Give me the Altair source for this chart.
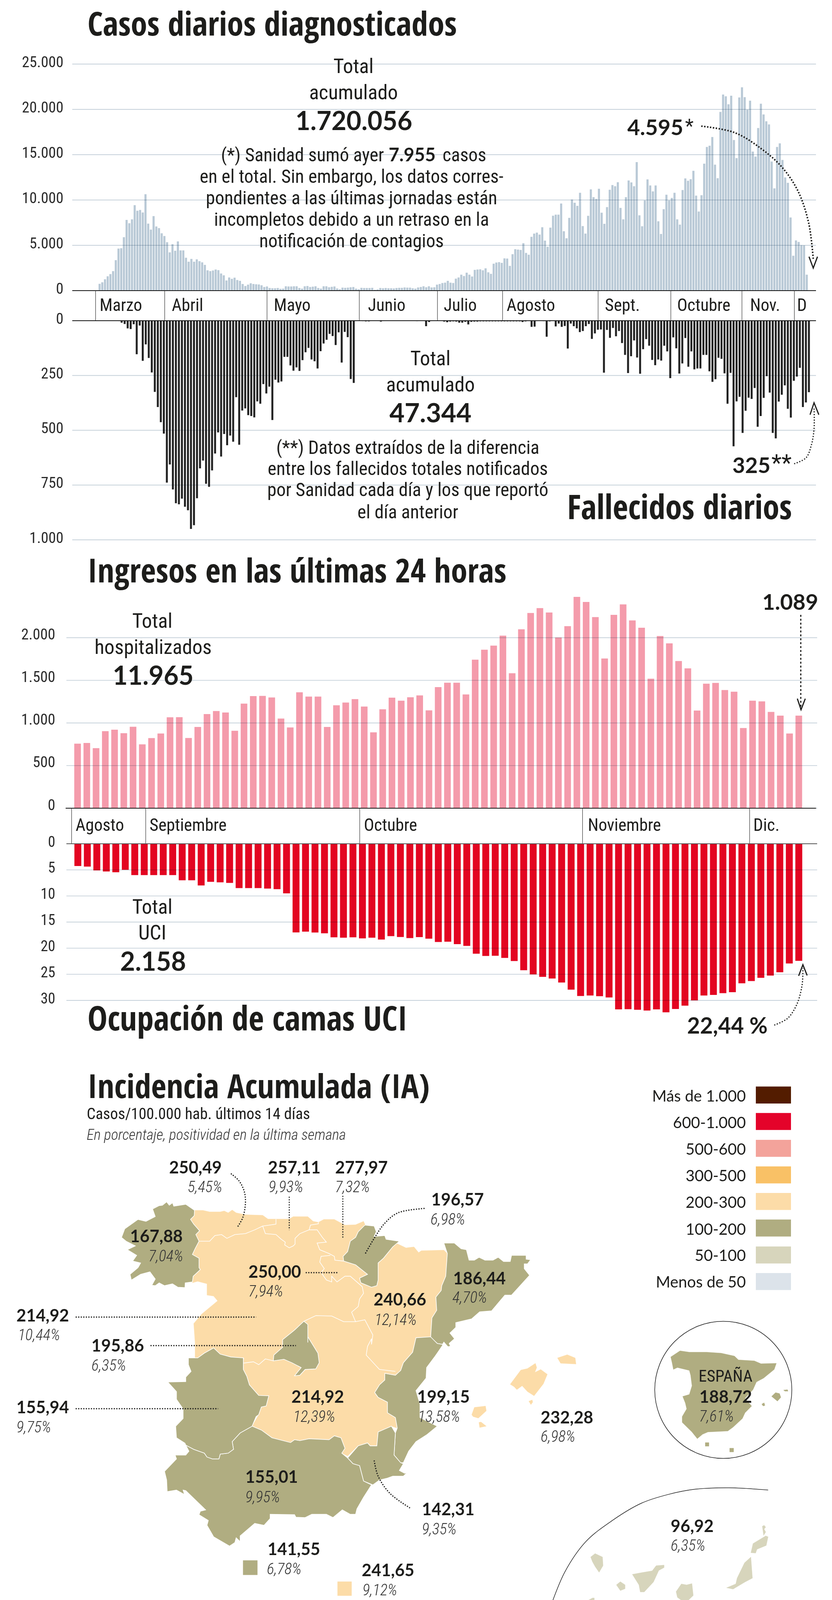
import altair as alt

# ---------- chart values ----------
cases = [750,920,1250,1580,1825,2150,3360,4640,4680,5890,7800,7430,7870,9430,8820,8900,8620,10640,7390,6730,8220,7080,6900,6330,6020,5340,4220,5120,4400,5430,4440,4440,3630,3190,3500,3190,3450,3250,3120,2840,2240,2150,2220,2330,2260,1890,1690,1120,1450,1300,1430,1170,1080,730,510,660,810,730,700,680,590,400,460,
 290,260,260,290,200,220,480,460,460,480,480,290,220,480,510,400,440,480,290,220,480,480,370,420,460,240,150,330,310,330,370,400,220,150,310,290,290,290,310,90,130,290,260,290,260,260,240,290,310,310,350,330,330,260,220,
 350,400,480,370,480,350,370,660,730,840,880,1080,880,840,1320,1450,1760,1610,1980,1760,1560,2290,2330,2350,2240,2460,2020,1850,2970,3100,3140,3060,3560,3540,2730,4020,4570,4530,4490,5230,4160,3960,5940,6290,6400,6180,6990,5520,4840,6950,8270,8380,8380,9610,6550,5780,8030,10050,9700,9350,10800,7120,6290,8250,11170,10310,10120,11240,8600,7370,9210,11130,11650,11520,11960,9130,7870,10310,12160,11940,11520,14180,8310,7100,9960,12270,11610,10950,11610,7650,6250,8990,10580,9960,10230,10800,7870,7280,11100,12380,12120,12290,13220,10490,8730,10530,14010,15850,15990,16950,13900,12400,19720,21640,21440,20560,21510,16620,14620,21310,22430,21350,19970,20960,15350,14800,17940,20630,19440,18690,18340,14250,11280,15850,16250,14420,12490,11900,8070,3850,5540,5370,5010,4990,1760]
deaths = [9,15,35,38,16,153,22,183,108,170,236,325,394,463,515,739,656,770,833,838,812,849,865,950,933,810,674,638,744,758,683,606,510,620,517,568,524,552,349,566,410,400,431,435,441,368,379,289,332,301,453,269,282,277,165,165,204,228,213,229,180,144,124,177,185,218,139,104,87,60,70,111,53,191,51,75,266,284,
 0,0,2,3,3,1,0,0,4,1,0,0,0,0,0,0,0,0,0,0,
 2,0,0,25,6,0,0,0,1,4,7,4,3,4,9,9,5,17,5,4,4,3,3,3,3,3,3,3,3,3,3,3,3,3,3,6,3,0,28,27,0,0,2,73,3,0,26,13,28,24,127,13,25,35,52,47,25,15,83,58,41,40,237,42,78,33,71,47,102,156,239,162,90,168,242,130,84,114,179,203,177,182,114,140,262,76,126,241,195,79,210,140,222,218,218,156,156,231,279,267,169,174,240,379,238,573,368,347,512,411,351,357,307,484,435,352,253,328,512,537,369,338,295,402,442,274,255,215,394,373,326]
admissions = [757,765,705,904,921,880,955,749,822,876,1066,1068,824,953,1104,1140,1122,908,1227,1315,1317,1299,1051,947,1360,1309,1309,953,1207,1239,1279,1192,890,1160,1297,1261,1301,
 1323,1148,1420,1472,1472,1335,1742,1859,1907,2024,1583,2099,2290,2347,2296,2002,2135,2479,2419,2242,1756,2268,2391,2203,2117,1519,2020,1934,1726,1640,1146,1460,1470,1386,1366,941,1261,1253,1130,1086,876,1086]
icu = [4.27,4.38,5.10,5.31,5.47,4.99,6.0,6.0,6.0,6.0,6.0,6.99,6.99,7.98,7.29,7.39,7.5,8.49,8.49,8.49,8.59,8.70,9.5,16.98,16.84,17.0,17.16,17.91,17.99,17.91,18.12,17.99,18.34,17.7,17.86,18.07,
 17.88,18.18,18.82,18.76,19.22,19.56,21.06,21.49,21.46,21.86,22.47,24.23,25.03,25.49,25.81,26.58,27.94,29.15,29.07,29.2,29.44,31.73,31.68,31.79,31.95,31.73,32.29,31.65,31.01,30.0,29.07,28.96,28.61,28.42,26.72,26.29,25.68,25.25,24.61,22.93,22.42]

top_months = ["Marzo","Abril","Mayo","Junio","Julio","Agosto","Sept.","Octubre","Nov.","D"]
top_month_start = [-0.77,24.7,62.4,96.4,125.2,149.2,184.4,211.2,237.4,256.7]
top_month_label = [0.72,27.3,64.9,99.6,127.5,150.7,186.9,213.5,240.4,257.7]
low_months = ["Agosto","Septiembre","Octubre","Noviembre","Dic."]
low_month_start = [-0.43,7.54,30.56,54.53,72.5]
low_month_label = [0.0,7.95,31.0,55.1,72.9]

legend_labels = ["Más de 1.000","600-1.000","500-600","300-500","200-300","100-200","50-100","Menos de 50"]
legend_colors = ["#531c00","#e4032a","#f3a39b","#f9c166","#fcdca8","#b0ad81","#d7d5bc","#dce3ea"]

PEACH, OLIVE, PALE = "#fcdca8", "#b0ad81", "#d7d5bc"
INK = "#1d1d1b"
NARROW = "Roboto Condensed"
ITAL = "Roboto Condensed Light, Roboto Condensed"
HEAD = "Open Sans Condensed"
NUM = "Lato"
LEG = "Lato"
OFF = 8

def Z(dx, dy, fy):
    return lambda pts: [[dx + x / 1.472 - OFF, dy + y / fy - OFF] for x, y in pts]

z1, z2 = Z(0, 0, 1.96), Z(1065, 0, 1.96)
z3, z4 = Z(0, 780, 2.45), Z(1065, 780, 2.45)
z5, z6 = Z(0, 1420, 2.306), Z(1065, 1420, 2.306)
z7, z8 = Z(0, 2100, 2.8), Z(1065, 2100, 2.8)
z9, z11 = Z(0, 2700, 2.063), Z(1065, 2700, 2.063)
z10, z12 = Z(0, 3400, 2.031), Z(1065, 3400, 2.031)

layers = []
ONE = alt.Data(values=[{"a": 1}])

def T(s, x, y, size, font=NARROW, weight="normal", style="normal", align="left", color=INK):
    layers.append(alt.Chart(ONE).mark_text(font=font, fontSize=size, fontWeight=weight, fontStyle=style,
                                           align=align, baseline="alphabetic", color=color).encode(
        x=alt.value(x - OFF), y=alt.value(y - OFF), text=alt.value(s)))

def N(s, x, y, size, align="left"):
    T(s, x, y, size, font=NUM, weight="bold", align=align)

def L(pts, dash=None, width=3.0, color=INK, interp="linear"):
    rows = [{"x": p[0], "y": p[1], "i": i} for i, p in enumerate(pts)]
    kw = {"strokeDash": dash} if dash else {}
    layers.append(alt.Chart(alt.Data(values=rows)).mark_line(stroke=color, strokeWidth=width, interpolate=interp, **kw).encode(
        x=alt.X("x:Q", scale=None, axis=None), y=alt.Y("y:Q", scale=None, axis=None), order="i:Q"))

def panel(values, first, last, y0, yv, vmax, color, bar_w, ticks, x0, x1, label_right, size, loff):
    """bars + multiply grid + axis"""
    xs = alt.Scale(domain=[0, len(values) - 1], range=[first - OFF, last - OFF], nice=False, zero=False)
    ys = alt.Scale(domain=[0, vmax], range=[y0 - OFF, yv - OFF], nice=False, zero=False)
    rows = [{"i": i, "v": v} for i, v in enumerate(values)]
    layers.append(alt.Chart(alt.Data(values=rows)).mark_bar(color=color, width=bar_w, orient="vertical").encode(
        x=alt.X("i:Q", scale=xs, axis=None), y=alt.Y("v:Q", scale=ys, axis=None, stack=None)))
    axis = alt.Axis(orient="left", values=ticks, title=None, domain=False, ticks=False, grid=False,
                    labelFont=NARROW, labelFontSize=size, labelColor="#2b2b2b", labelPadding=0,
                    offset=-(label_right - OFF), labelOffset=loff, labelBaseline="middle",
                    labelExpr="replace(format(datum.value, ','), ',', '.')")
    gv = [{"v": t} for t in ticks]
    layers.append(alt.Chart(alt.Data(values=gv)).mark_rule(stroke="#c6d1da", strokeWidth=1.8, blend="multiply").encode(
        y=alt.Y("v:Q", scale=ys, axis=axis), x=alt.value(x0 - OFF), x2=alt.value(x1 - OFF)))
    return ys

def baseline(ys, x0, x1, color="#111", w=1.8):
    layers.append(alt.Chart(alt.Data(values=[{"v": 0}])).mark_rule(stroke=color, strokeWidth=w).encode(
        y=alt.Y("v:Q", scale=ys, axis=None), x=alt.value(x0 - OFF), x2=alt.value(x1 - OFF)))

def months(names, starts, labs, first, last, n, ytop, ybot, ylab, size):
    xs = alt.Scale(domain=[0, n - 1], range=[first - OFF, last - OFF], nice=False, zero=False)
    layers.append(alt.Chart(alt.Data(values=[{"m": m} for m in starts])).mark_rule(stroke="#333", strokeWidth=1.2).encode(
        x=alt.X("m:Q", scale=xs, axis=None), y=alt.value(ytop - OFF), y2=alt.value(ybot - OFF)))
    layers.append(alt.Chart(alt.Data(values=[{"m": m, "t": t} for m, t in zip(labs, names)])).mark_text(
        font=NARROW, fontSize=size, align="left", baseline="alphabetic", color=INK).encode(
        x=alt.X("m:Q", scale=xs, axis=None), y=alt.value(ylab - OFF), text="t:N"))

BODY = 47.5
TOT = 52
HSIZE = 86

# ---------- cases ----------
ys_c = panel(cases, 250, 2070.4, 744, 164, 25000, "#b9c9d6", 5.4, [0, 5000, 10000, 15000, 20000, 25000], 185, 2089, 162, 39, -5)
baseline(ys_c, 185, 2089)
months(top_months, top_month_start, top_month_label, 250, 2070.4, len(cases), 744, 821, 796, 44)
T("Casos diarios diagnosticados", 224, 91, 85, font=HEAD, weight="bold")
T("Total", 905, 187, TOT, align="center")
T("acumulado", 905, 253.6, TOT, align="center")
N("1.720.056", 906, 333, 66, align="center")
T("(*) Sanidad sumó ayer", 983, 413, BODY, align="right")
N("7.955", 995, 413, 47)
T("casos", 1133, 413, BODY)
T("en el total. Sin embargo, los datos corres-", 900, 468, BODY, align="center")
T("pondientes a las últimas jornadas están", 900, 523, BODY, align="center")
T("incompletos debido a un retraso en la", 900, 578, BODY, align="center")
T("notificación de contagios", 900, 632.6, BODY, align="center")
N("4.595", 1606, 346, 56)
T("*", 1754, 340, 50)
L(z2([(1075,633),(1200,665),(1300,745),(1380,840),(1440,960),(1480,1120),(1497,1300)]), dash=[3.5,4], width=4, interp="catmull-rom")
L(z2([(1481,1288),(1497,1345),(1513,1288)]), width=3)

# ---------- deaths ----------
ys_d = panel(deaths, 306.4, 2075.9, 821, 1382, 1000, "#222222", 5.0, [0, 250, 500, 750, 1000], 185, 2089, 162, 39, -5)
baseline(ys_d, 185, 2089)
T("Total", 1102, 935, TOT, align="center")
T("acumulado", 1102, 1002, TOT, align="center")
N("47.344", 1102, 1081, 67, align="center")
T("(**) Datos extraídos de la diferencia", 1044, 1161.6, BODY, align="center")
T("entre los fallecidos totales notificados", 1044, 1216, BODY, align="center")
T("por Sanidad cada día y los que reportó", 1044, 1270, BODY, align="center")
T("el día anterior", 1044, 1327, BODY, align="center")
N("325", 1875, 1210.6, 56)
T("**", 1975, 1205, 60)
T("Fallecidos diarios", 1452, 1329, HSIZE, font=HEAD, weight="bold")
L(z4([(1425,998),(1470,960),(1490,880),(1500,780),(1500,650)]), dash=[3,4], width=3, interp="catmull-rom")
L(z4([(1485,690),(1500,615),(1518,690)]), width=3)

# ---------- admissions ----------
ys_h = panel(admissions, 193.6, 2050, 2069, 1632.5, 2000, "#f49bab", 17, [0, 500, 1000, 1500, 2000], 170, 2092, 141, 39, -8)
baseline(ys_h, 168, 2089)
months(low_months, low_month_start, low_month_label, 193.6, 2050, len(admissions), 2069, 2160, 2126.8, 44)
T("Ingresos en las últimas 24 horas", 224, 1491, 85, font=HEAD, weight="bold")
T("Total", 390, 1606.5, TOT, align="center")
T("hospitalizados", 392, 1673.7, TOT, align="center")
N("11.965", 392, 1753, 66, align="center")
N("1.089", 1951.5, 1561, 56)
L(z6([(1450,355),(1450,915)]), dash=[5,5], width=3)
L(z6([(1437,850),(1451,915),(1467,850)]), width=3)

# ---------- ICU ----------
ys_u = panel(icu, 194.3, 2050, 2160, 2561, 30, "#e30521", 17.7, [0, 5, 10, 15, 20, 25, 30], 170, 2092, 141, 38, -4)
baseline(ys_u, 170, 2092, color="#555", w=2.2)
T("Total", 390, 2338.6, TOT, align="center")
T("UCI", 390, 2405, TOT, align="center")
N("2.158", 392, 2485, 66, align="center")
T("Ocupación de camas UCI", 224, 2637.5, HSIZE, font=HEAD, weight="bold")
N("22,44 %", 1759, 2646, 57)
L(z8([(1350,1468),(1400,1420),(1435,1320),(1455,1180),(1458,1060)]), dash=[3,4], width=3, interp="catmull-rom")
L(z8([(1442,1115),(1458,1035),(1474,1112)]), width=3)

# ---------- map outlines ----------
galicia = z9([(733,822),(732,850),(718,870),(730,895),(752,930),(738,950),(750,985),(735,1025),(725,1055),(750,1075),(750,1125),(755,1135),(728,1170),(725,1200),(698,1205),(697,1230),(670,1228),(650,1210),(620,1220),(600,1205),(585,1220),(572,1218),(585,1185),(565,1147),(530,1160),(495,1190),(490,1160),(520,1125),(530,1100),(500,1090),(515,1060),(480,1030),(510,1010),(475,985),(458,965),(470,920),(500,890),(520,870),(550,880),(585,855),(575,815),(600,797),(612,795),(628,777),(638,795),(650,782),(655,800),(700,790)])
peach_main = (z9([(733,822),(765,822),(790,830),(830,830),(845,825),(860,835),(875,820),(890,835),(925,845),(990,848),(1010,868),(1090,868),(1105,855),(1160,855),(1180,880),(1200,885),(1220,870),(1260,870),(1300,900),(1340,898),(1370,880),(1375,895),(1400,960),(1500,1000),(1530,1020),(1560,1015)])
  + z11([(10,1045),(20,1035),(105,1032),(118,1050),(115,1110),(112,1170),(97,1220),(95,1245),(75,1280),(78,1350),(60,1390),(55,1490)])
  + z10([(1568,130),(1520,180),(1510,220),(1490,245),(1450,235),(1450,270),(1430,295),(1412,335),(1425,360),(1460,385),(1460,440),(1490,465),(1497,520),(1475,510),(1425,540),(1420,610),(1395,610),(1385,595),(1350,610),(1310,665),(1288,650),(1300,625),(1285,570),(1260,560),(1240,580),(1165,575),(1130,585),(1110,580),(1095,595),(1025,570),(985,530),(950,510),(975,450),(985,410),(1003,405),(1013,352),(975,350),(940,295),(930,250),(918,215),(917,180),(920,155),(870,150),(830,135),(805,103),(770,130),(745,155),(735,155)])
  + z9([(735,1520),(730,1420),(760,1370),(820,1300),(805,1275),(780,1270),(780,1210),(745,1197),(725,1205),(725,1000),(720,870)]))
borders = [
 z9([(750,985),(790,985),(810,955),(835,950),(855,970),(885,950),(925,945),(960,925),(990,905),(1000,945),(1040,950),(1060,975),(1075,990),(1073,1005),(1090,1020),(1105,1010),(1112,1000),(1112,970),(1130,945),(1165,925),(1195,925),(1215,965),(1230,990),(1195,995),(1205,1030),(1240,1050),(1260,1065),(1262,1085),(1295,1090)]),
 z9([(990,905),(1040,895),(1040,868)]),
 z9([(1165,925),(1170,900),(1200,893),(1200,885)]),
 z9([(1245,1060),(1210,1065),(1205,1095),(1222,1130),(1210,1150),(1230,1190),(1250,1200),(1250,1170),(1270,1200),(1300,1170),(1320,1170),(1365,1225),(1370,1260),(1355,1290),(1350,1330),(1325,1360),(1340,1410),(1295,1410),(1250,1380),(1190,1378),(1145,1408)]),
 z9([(1340,1410),(1375,1400),(1405,1480),(1400,1530)]) + z10([(1400,55),(1385,95),(1380,140),(1400,170),(1430,215),(1490,225)]),
 z10([(1030,170),(1000,160),(975,190),(955,175),(917,182)]),
]
madrid = z9([(1145,1408),(1160,1425),(1160,1520)]) + z10([(1160,45),(1198,130),(1203,180),(1190,212),(1150,215),(1130,245),(1110,248),(1135,205),(1100,180),(1070,162),(1030,170),(1032,140),(1065,100),(1065,60),(1110,10)])
navarra = z9([(1375,900),(1410,905),(1418,935),(1410,960),(1450,955),(1455,975),(1505,985),(1480,1015),(1445,1075),(1425,1100),(1425,1190),(1420,1220),(1400,1228),(1360,1205),(1355,1180),(1385,1160),(1340,1110),(1295,1090),(1293,1065),(1310,1040),(1320,985),(1340,965),(1350,935)])
catalunya = z11([(105,995),(145,995),(170,1025),(190,1030),(200,1085),(220,1085),(238,1070),(260,1085),(290,1085),(310,1070),(330,1092),(355,1092),(360,1060),(415,1060),(415,1080),(432,1083),(420,1105),(408,1105),(408,1130),(428,1165),(360,1270),(335,1270),(285,1353),(240,1358),(210,1395),(150,1415),(150,1440),(128,1470),(145,1500),(125,1525),(130,1540),(120,1542),(105,1518),(100,1530),(80,1525),(55,1495),(60,1390),(78,1350),(75,1280),(95,1245),(97,1220),(112,1170),(115,1110),(118,1050)])
valencia = (z11([(55,1490),(80,1525),(100,1530)]) + z12([(100,90),(85,120),(70,150),(40,205),(38,260),(0,325),(15,395),(15,465),(80,510),(40,555),(0,590)])
  + z10([(1540,640),(1520,700),(1510,700),(1485,660),(1490,545),(1497,520),(1490,465),(1460,440),(1460,385),(1425,360),(1412,335),(1430,295),(1450,270),(1450,235),(1490,245),(1510,220),(1520,180),(1555,125)]) + z12([(0,50)]))
murcia = z10([(1310,675),(1350,612),(1385,597),(1395,612),(1420,612),(1425,540),(1475,510),(1490,545),(1485,660),(1510,700),(1520,705),(1505,740),(1525,755),(1535,750),(1520,770),(1480,770),(1460,780),(1430,790),(1405,815),(1370,795),(1355,715),(1330,705)])
andalucia = z10([(950,510),(985,530),(1025,570),(1095,595),(1110,580),(1130,585),(1165,575),(1240,580),(1260,560),(1285,570),(1300,625),(1288,650),(1310,675),(1330,705),(1355,715),(1370,795),(1400,815),(1370,880),(1345,940),(1340,968),(1320,968),(1290,945),(1255,985),(1230,968),(1175,968),(1150,985),(1115,983),(1110,970),(1018,968),(1018,990),(995,1025),(960,1015),(905,1080),(905,1110),(890,1090),(885,1115),(865,1133),(805,1085),(780,1025),(785,1000),(750,970),(755,952),(775,945),(700,845),(690,842),(695,865),(665,842),(630,850),(628,790),(620,745),(665,680),(660,660),(700,660),(712,640),(700,608),(730,630),(770,650),(780,670),(800,680),(825,680),(830,655),(860,650),(880,630),(875,590),(905,545)])
extremadura = z10([(710,155),(745,155),(770,130),(805,103),(830,135),(870,150),(917,155),(917,215),(930,250),(940,295),(975,350),(1013,352),(1003,405),(985,410),(975,450),(965,460),(950,510),(905,545),(875,590),(880,630),(860,650),(830,655),(825,680),(800,680),(780,670),(770,650),(730,630),(700,608),(697,598),(665,570),(662,510),(690,470),(690,420),(665,370),(665,330),(632,280),(700,278),(700,255),(720,225),(710,190)])
ceuta = z10([(916,1208),(970,1208),(970,1283),(916,1283)])
melilla = z10([(1272,1318),(1325,1318),(1325,1391),(1272,1391)])
baleares = [z12(p) for p in [
 [(355,292),(395,218),(420,210),(450,183),(455,205),(448,230),(470,215),(495,240),(480,290),(445,352),(420,330),(400,300),(380,320),(370,305)],
 [(533,155),(570,138),(600,155),(603,187),(545,183)],
 [(210,450),(220,412),(262,405),(265,430),(235,468),(215,460)],
 [(237,490),(245,488),(265,510),(240,517)],
 [(425,380),(438,373),(440,385),(433,398)]]]
canarias = [z12(p) for p in [
 [(658,1190),(675,1172),(703,1190),(705,1235),(690,1270),(675,1240),(665,1215)],
 [(815,1280),(855,1270),(890,1262),(905,1235),(935,1232),(935,1245),(915,1260),(895,1320),(860,1372),(845,1372),(840,1335)],
 [(755,1335),(770,1318),(788,1335),(788,1355),(770,1365)],
 [(632,1428),(665,1403),(672,1403),(672,1430),(655,1458),(635,1440)],
 [(1000,1330),(1020,1335),(1040,1328),(1045,1390),(1015,1430),(985,1400),(980,1370)],
 [(1170,1350),(1205,1330),(1210,1300),(1238,1220),(1262,1190),(1268,1300),(1240,1320),(1195,1357)],
 [(1262,1168),(1270,1120),(1318,1080),(1327,1085),(1320,1130),(1285,1150),(1280,1170)],
 [(1305,1030),(1312,1025),(1318,1035),(1312,1045),(1318,1060),(1310,1078)]]]
mini = [z12(p) for p in [
 [(960,150),(995,118),(1030,125),(1095,125),(1150,130),(1200,145),(1215,165),(1275,170),(1300,185),(1358,183),(1350,215),(1310,260),(1283,280),(1270,320),(1240,365),(1265,405),(1240,440),(1230,470),(1195,515),(1175,535),(1100,540),(1080,552),(1060,575),(1040,540),(1003,490),(1003,460),(1020,420),(1015,390),(1005,355),(1030,345),(1040,300),(1035,245),(1030,220),(985,205),(970,215),(965,180)],
 [(1340,355),(1355,335),(1370,340),(1375,360),(1362,380)],
 [(1385,322),(1400,320),(1402,328),(1390,328)],
 [(1303,395),(1312,388),(1315,402),(1308,405)],
 [(1090,595),(1104,595),(1104,614),(1090,614)],
 [(1182,624),(1197,624),(1197,644),(1182,644)]]]

def poly(p):
    return {"type": "Feature", "properties": {}, "geometry": {"type": "Polygon", "coordinates": [p + [p[0]]]}}

def line(p):
    return {"type": "Feature", "properties": {}, "geometry": {"type": "LineString", "coordinates": p}}

def geo(feats, fill=None, stroke="#ffffff", w=1.6):
    kw = {"fill": fill, "filled": True} if fill else {"filled": False}
    layers.append(alt.Chart(alt.Data(values=feats)).mark_geoshape(stroke=stroke, strokeWidth=w, **kw).project(
        type="identity", scale=1, translate=[0, 0]))

geo([poly(peach_main), poly(melilla)] + [poly(p) for p in baleares], PEACH, stroke=PEACH, w=0.5)
geo([line(b) for b in borders], None)
geo([poly(p) for p in [galicia, madrid, navarra, catalunya, valencia, murcia, andalucia, extremadura]], OLIVE)
geo([poly(ceuta)], OLIVE, stroke=OLIVE, w=0.5)
geo([poly(p) for p in canarias], PALE, stroke=PALE, w=0.5)
geo([poly(p) for p in mini], OLIVE, stroke=OLIVE, w=0.5)

# circle and big arc
layers.append(alt.Chart(ONE).mark_point(shape="circle", filled=False, stroke="#222", strokeWidth=1.5, size=351 ** 2, opacity=1).encode(
    x=alt.value(1851.7 - OFF), y=alt.value(3558 - OFF)))
L(z12([(502,1468),(560,1270),(640,1110),(740,1000),(850,910),(950,865),(1050,838),(1180,830),(1327,842)]), width=1.5, color="#222", interp="catmull-rom")

# leader lines
DOT = [3, 3.5]
L(z9([(870,628),(900,665),(920,720),(925,780),(915,860),(895,910)]), dash=DOT, width=3, interp="catmull-rom")
L(z9([(1090,750),(1090,925)]), dash=DOT, width=2.5)
L(z9([(1292,745),(1292,970)]), dash=DOT, width=2.5)
L(z9([(1600,812),(1500,835),(1450,890),(1410,970),(1375,1055)]), dash=DOT, width=3, interp="catmull-rom")
L(z9([(1152,1151),(1272,1151)]), dash=DOT, width=3)
L(z9([(285,1386),(965,1386)]), dash=DOT, width=3)
L(z10([(567,91),(1115,91)]), dash=DOT, width=3)
L(z10([(285,419),(822,419)]), dash=DOT, width=3)
L(z10([(1410,688),(1425,770),(1470,860),(1545,935)]), dash=DOT, width=3, interp="catmull-rom")

# ---------- map text ----------
T("Incidencia Acumulada (IA)", 224, 2810.5, 85, font=HEAD, weight="bold")
T("Casos/100.000 hab. últimos 14 días", 222, 2865, 40)
T("En porcentaje, positividad en la última semana", 222, 2918, 38, font=ITAL, style="italic", color="#333")

def R(val, xv, yv, pct, xp, yp, apct="left"):
    N(val, xv, yv, 43)
    T(pct, xp, yp, 40, font=ITAL, style="italic", color="#333", align=apct)

R("250,49", 433, 3004, "5,45%", 569, 3052, "right")
R("257,11", 686, 3004, "9,93%", 687.5, 3052)
R("277,97", 858, 3004, "7,32%", 858, 3052)
R("196,57", 1104, 3086, "6,98%", 1102, 3135)
R("167,88", 333, 3180, "7,04%", 469, 3229, "right")
R("250,00", 636, 3271, "7,94%", 636, 3319)
R("240,66", 956.5, 3342, "12,14%", 959, 3392)
R("186,44", 1160, 3287.5, "4,70%", 1158, 3335)
R("214,92", 42, 3382.5, "10,44%", 46, 3430.5)
R("195,86", 234, 3460, "6,35%", 234, 3509)
R("155,94", 42, 3618, "9,75%", 42, 3667)
R("214,92", 746, 3591, "12,39%", 750.7, 3640)
R("155,01", 628, 3796, "9,95%", 628, 3845.6)
R("141,55", 685, 3981, "6,78%", 683, 4030)
R("241,65", 926, 4035, "9,12%", 928, 4084)
R("199,15", 1068, 3590.5, "13,58%", 1070, 3640)
R("232,28", 1384, 3644, "6,98%", 1384, 3691)
R("142,31", 1080, 3878.6, "9,35%", 1080, 3928)
R("96,92", 1717, 3922, "6,35%", 1717, 3970)
T("ESPAÑA", 1788.5, 3537, 42)
R("188,72", 1790.5, 3590.5, "7,61%", 1790, 3639)

# legend
legend_top = [2781.4, 2849.3, 2918, 2986, 3054, 3122, 3191, 3259]
legend_base = [2820, 2888, 2956, 3024, 3092, 3160.5, 3228, 3296]
for lab, col, top, base in zip(legend_labels, legend_colors, legend_top, legend_base):
    layers.append(alt.Chart(ONE).mark_rect(color=col).encode(
        x=alt.value(1935 - OFF), x2=alt.value(2025 - OFF), y=alt.value(top - OFF), y2=alt.value(top + 43.5 - OFF)))
    T(lab, 1909.4, base, 40, font=LEG, align="right")

T("Fuente: Ministerio de Sanidad, Consumo y Bienestar Social", 32, 4152, 39)
T("ABC", 2033, 4152, 39)

chart = alt.layer(*layers).resolve_scale(x="independent", y="independent").properties(
    width=2100, height=4156, padding=0, background="white",
    autosize=alt.AutoSizeParams(type="none", contains="padding")
).configure_view(stroke=None)

chart.save("out.html", embed_options={"renderer": "svg", "actions": False})
